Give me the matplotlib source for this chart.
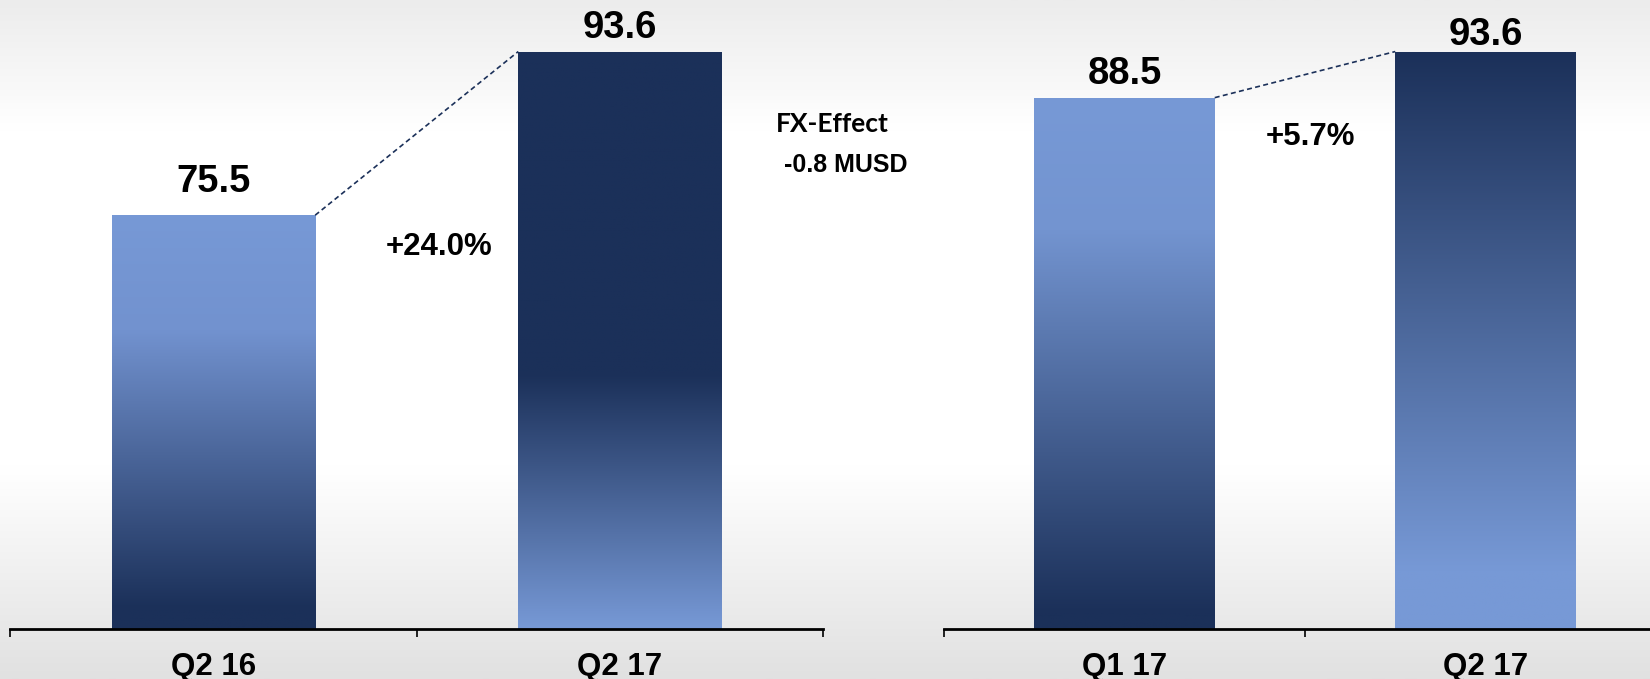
import matplotlib.pyplot as plt
import numpy as np
from matplotlib.colors import LinearSegmentedColormap

# values
left_cats = ["Q2 16", "Q2 17"]
left_vals = [75.5, 93.6]
left_change = "+24.0%"

right_cats = ["Q1 17", "Q2 17"]
right_vals = [88.5, 93.6]
right_change = "+5.7%"

fx_title = "FX-Effect"
fx_value = "-0.8 MUSD"

LIGHT = "#7799D6"
DARK = "#1B3059"
FONT = ["Liberation Sans", "DejaVu Sans"]

# gradient stops (top -> bottom) for each bar
left_grads = [
    [(0, LIGHT), (0.28, "#7292CF"), (0.95, DARK), (1, DARK)],
    [(0, DARK), (0.56, DARK), (1, LIGHT)],
]
right_grads = [
    [(0, LIGHT), (0.25, "#7394D0"), (0.97, DARK), (1, DARK)],
    [(0, DARK), (0.9, LIGHT), (1, LIGHT)],
]
left_pads = [16.5, 10]
right_pads = [9.5, 4.5]

YLIM = (29.7, 99.3)
WIDTH = 0.5

fig = plt.figure(figsize=(16.5, 6.79), dpi=100)

# background gradient
bg = fig.add_axes([0, 0, 1, 1], zorder=-1)
bg_cmap = LinearSegmentedColormap.from_list(
    "bg", [(0, "#ECECEC"), (0.19, "#FFFFFF"), (0.69, "#FFFFFF"), (1, "#E1E1E1")])
bg.imshow(np.linspace(0, 1, 256).reshape(-1, 1), cmap=bg_cmap, aspect="auto",
          extent=(0, 1, 0, 1), origin="upper")
bg.axis("off")


def draw_panel(ax, cats, vals, grads, pads, change, change_pos):
    x = np.arange(len(cats))
    bars = ax.bar(x, vals, width=WIDTH, facecolor="none", edgecolor="none")
    grad = np.linspace(0, 1, 256).reshape(-1, 1)
    for bar, stops in zip(bars, grads):
        cmap = LinearSegmentedColormap.from_list("g", stops)
        x0 = bar.get_x()
        im = ax.imshow(grad, cmap=cmap, aspect="auto", origin="upper",
                       extent=(x0, x0 + bar.get_width(), YLIM[0], bar.get_height()),
                       zorder=2)
        im.set_clip_path(bar)

    for xi, v, p in zip(x, vals, pads):
        ax.annotate(f"{v}", xy=(xi, v), xytext=(0, p), textcoords="offset points",
                    ha="center", va="baseline", fontsize=27.5, fontweight="bold",
                    family=FONT, zorder=3)

    # dashed connector between bar tops
    ax.plot([x[0] + WIDTH / 2, x[1] - WIDTH / 2], vals, color=DARK,
            lw=1.2, ls=(0, (3, 2)), zorder=3)

    ax.text(change_pos[0], change_pos[1], change, transform=ax.transAxes,
            ha="center", va="center", fontsize=22.5, fontweight="bold", family=FONT)

    ax.set_xlim(-0.5, len(cats) - 0.5)
    ax.set_ylim(*YLIM)
    ax.patch.set_visible(False)
    for s in ["top", "left", "right"]:
        ax.spines[s].set_visible(False)
    ax.spines["bottom"].set_linewidth(2)
    ax.spines["bottom"].set_zorder(4)
    ax.set_yticks([])
    ax.set_xticks(x, labels=cats)
    ax.set_xticks(np.arange(len(cats) + 1) - 0.5, minor=True)
    ax.tick_params(axis="x", which="major", length=0, pad=16)
    ax.tick_params(axis="x", which="minor", length=6, width=1.2)
    for lbl in ax.get_xticklabels():
        lbl.set_fontsize(22.5)
        lbl.set_fontweight("bold")
        lbl.set_family(FONT)


ax1 = fig.add_axes([0.00636, 0.0731, 0.4924, 0.9269])
draw_panel(ax1, left_cats, left_vals, left_grads, left_pads, left_change, (0.527, 0.608))

ax2 = fig.add_axes([0.5721, 0.0731, 0.4376, 0.9269])
draw_panel(ax2, right_cats, right_vals, right_grads, right_pads, right_change, (0.507, 0.782))

fig.text(0.470, 0.817, fx_title, ha="left", va="center", fontsize=19,
         fontweight="bold", family=["Lato", "DejaVu Sans"])
fig.text(0.475, 0.757, fx_value, ha="left", va="center", fontsize=18,
         fontweight="bold", family=FONT)

fig.savefig("out.png", dpi=100)
